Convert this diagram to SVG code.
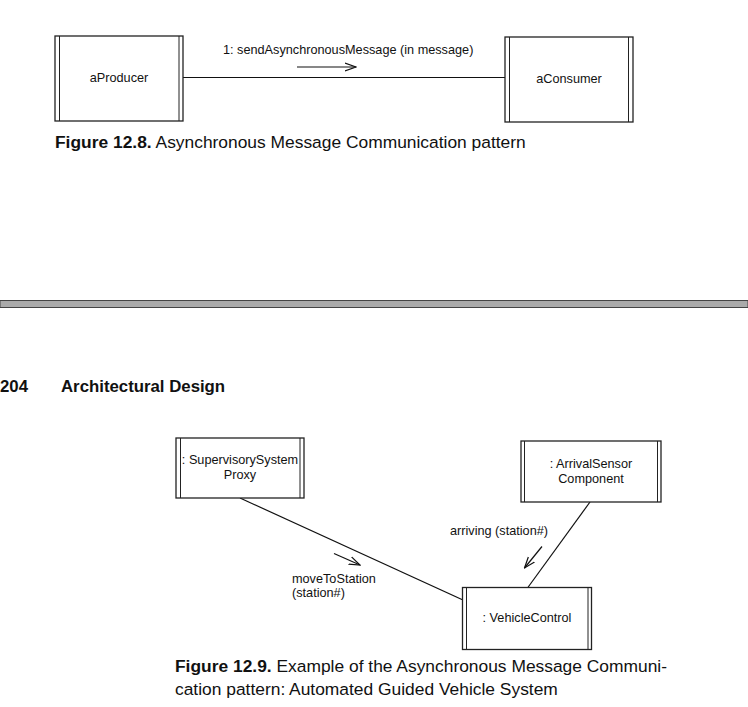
<svg xmlns="http://www.w3.org/2000/svg" width="748" height="707" viewBox="0 0 748 707">
<style>
.box{fill:#fff;stroke:#222;stroke-width:1.3}
.bar{stroke:#222;stroke-width:1}
.ln{stroke:#111;stroke-width:1.2;fill:none}
.lbl{font-family:"Liberation Sans",Arial,sans-serif;font-size:12.7px;fill:#111}
.cap{font-family:"Liberation Sans",Arial,sans-serif;font-size:17.4px;fill:#111}
.hd{font-family:"Liberation Sans",Arial,sans-serif;font-size:16.8px;font-weight:bold;fill:#111}
.b{font-weight:bold}
</style>
<defs>
<marker id="open" markerWidth="12" markerHeight="10" refX="11" refY="5" orient="auto" markerUnits="userSpaceOnUse">
<path d="M0,1 L11,5 L0,9" fill="none" stroke="#111" stroke-width="1.2"/>
</marker>
</defs>
<rect width="748" height="707" fill="#fff"/>

<g id="connectors">
<line class="ln" x1="183" y1="77.5" x2="505" y2="77.5"/>
<line class="ln" x1="297" y1="67" x2="356" y2="67" marker-end="url(#open)"/>
<line class="ln" x1="240" y1="498" x2="463" y2="600"/>
<line class="ln" x1="590" y1="502" x2="527.5" y2="588"/>
<line class="ln" x1="334" y1="553.5" x2="360" y2="565" marker-end="url(#open)"/>
<line class="ln" x1="542" y1="546.5" x2="524.5" y2="568" marker-end="url(#open)"/>
</g>

<g id="aProducer">
<rect class="box" x="55" y="36" width="128" height="85"/>
<line class="bar" x1="59.5" y1="36" x2="59.5" y2="121"/>
<line class="bar" x1="179" y1="36" x2="179" y2="121"/>
<text class="lbl" x="119" y="82" text-anchor="middle">aProducer</text>
</g>

<g id="aConsumer">
<rect class="box" x="505" y="37" width="128" height="85"/>
<line class="bar" x1="509.5" y1="37" x2="509.5" y2="122"/>
<line class="bar" x1="628.5" y1="37" x2="628.5" y2="122"/>
<text class="lbl" x="569" y="83" text-anchor="middle">aConsumer</text>
</g>

<text class="lbl" x="223" y="54">1: sendAsynchronousMessage (in message)</text>

<text class="cap" x="55" y="148"><tspan class="b">Figure 12.8.</tspan> Asynchronous Message Communication pattern</text>

<rect x="0" y="300.5" width="748" height="7" fill="#aaa" stroke="#444" stroke-width="1"/>

<text class="hd" x="0" y="392">204</text>
<text class="hd" x="61" y="392">Architectural Design</text>

<g id="supervisory">
<rect class="box" x="176" y="438" width="128" height="60"/>
<line class="bar" x1="180.5" y1="438" x2="180.5" y2="498"/>
<line class="bar" x1="300" y1="438" x2="300" y2="498"/>
<text class="lbl" x="240" y="464" text-anchor="middle">: SupervisorySystem</text>
<text class="lbl" x="240" y="479" text-anchor="middle">Proxy</text>
</g>

<g id="arrivalSensor">
<rect class="box" x="521" y="441" width="140" height="61"/>
<line class="bar" x1="524.5" y1="441" x2="524.5" y2="502"/>
<line class="bar" x1="657.5" y1="441" x2="657.5" y2="502"/>
<text class="lbl" x="591" y="468" text-anchor="middle">: ArrivalSensor</text>
<text class="lbl" x="591" y="483" text-anchor="middle">Component</text>
</g>

<g id="vehicleControl">
<rect class="box" x="462.5" y="587.5" width="129" height="62"/>
<line class="bar" x1="466.5" y1="587.5" x2="466.5" y2="649.5"/>
<line class="bar" x1="588" y1="587.5" x2="588" y2="649.5"/>
<text class="lbl" x="527" y="622" text-anchor="middle">: VehicleControl</text>
</g>

<text class="lbl" x="450" y="535">arriving (station#)</text>
<text class="lbl" x="292" y="583">moveToStation</text>
<text class="lbl" x="292" y="597">(station#)</text>

<text class="cap" x="175" y="672"><tspan class="b">Figure 12.9.</tspan> Example of the Asynchronous Message Communi-</text>
<text class="cap" x="175" y="695">cation pattern: Automated Guided Vehicle System</text>
</svg>
